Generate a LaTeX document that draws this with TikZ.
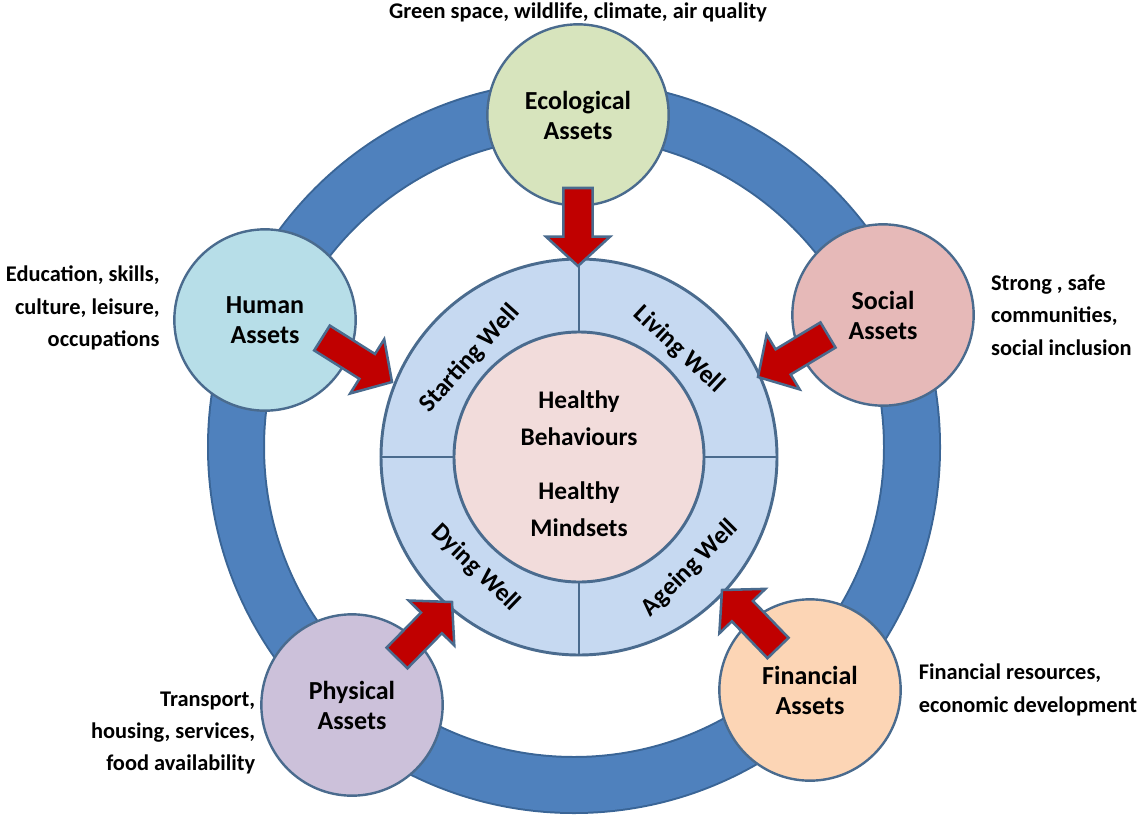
\documentclass[tikz,border=0pt]{standalone}
\usepackage{fontspec}
\setmainfont{Carlito}
\usetikzlibrary{calc,positioning}
\definecolor{ringblue}{HTML}{4F81BD}
\definecolor{ringedge}{HTML}{3A6596}
\definecolor{edgeblue}{HTML}{4A6B8E}
\definecolor{wheelblue}{HTML}{C6D9F1}
\definecolor{corepink}{HTML}{F2DCDB}
\definecolor{ecogreen}{HTML}{D7E4BD}
\definecolor{humanblue}{HTML}{B7DEE8}
\definecolor{socialred}{HTML}{E6B9B8}
\definecolor{physlilac}{HTML}{CCC1DA}
\definecolor{finpeach}{HTML}{FCD5B5}
\definecolor{arrowred}{HTML}{C00000}
\tikzstyle{asset}=[circle, draw=edgeblue, line width=1.8pt, minimum size=136pt, inner sep=0pt, align=center, font=\fontsize{19.5}{22.5}\selectfont\bfseries]
\tikzstyle{disc}=[circle, draw=edgeblue, line width=2.2pt, inner sep=0pt]
\tikzstyle{desc}=[font=\fontsize{16.8}{24.3}\selectfont\bfseries, inner sep=0pt]
\tikzstyle{stage}=[font=\fontsize{19}{20}\selectfont\bfseries, inner sep=0pt]
\tikzstyle{core text}=[align=center, font=\fontsize{19}{27.5}\selectfont\bfseries]
\tikzstyle{bigarrow}=[fill=arrowred, draw=edgeblue, line width=1.9pt, line join=miter]
% block arrow from tail #1 to tip #2
\newcommand{\assetarrow}[2]{%
  \coordinate (ab) at ($(#2)!22pt!(#1)$);
  \draw[bigarrow] ($(#1)!11pt!90:(#2)$) -- ($(ab)!11pt!90:(#2)$) -- ($(ab)!24pt!90:(#2)$) -- (#2)
    -- ($(ab)!24pt!-90:(#2)$) -- ($(ab)!11pt!-90:(#2)$) -- ($(#1)!11pt!-90:(#2)$) -- cycle;}

\begin{document}
\begin{tikzpicture}[x=0.75pt, y=-0.75pt]
\useasboundingbox (0,0) rectangle (1141,817);
% outer ring
\draw[ringedge, line width=43.5pt] (574,447) circle (253.5pt);
\draw[ringblue, line width=40.5pt] (574,447) circle (253.5pt);

% wheel in the middle
\node[disc, fill=wheelblue, minimum size=297pt] (wheel) at (579,457) {};
\node[disc, fill=corepink, minimum size=187.5pt] (core) at (wheel.center) {};
\foreach \a in {0,90,180,270}
    \draw[edgeblue, line width=2.2pt] (wheel.\a) -- (core.\a);
\node[core text] (behav) at (579,418) {Healthy\\Behaviours};
\node[core text] (mind) at (579,509) {Healthy\\Mindsets};
\foreach \n/\a/\d/\r/\t in {start/138/110/48/Starting Well, live/47/110/-43/Living Well,
                            die/227/114/-44/Dying Well, age/315/118/45/Ageing Well}
    \node[stage, rotate=\r] (\n) at ($(wheel.center)+(\a:\d pt)$) {\t};

% assets
\node[asset, fill=ecogreen] (eco) at (578,115) {Ecological\\Assets};
\node[asset, fill=humanblue] (human) at (265,320) {Human\\Assets};
\node[asset, fill=socialred] (social) at (883,315) {Social\\Assets};
\node[asset, fill=physlilac] (phys) at (352,705) {Physical\\Assets};
\node[asset, fill=finpeach] (fin) at (810,690) {Financial\\Assets};

\node[desc, above=1pt of eco] (ecotxt) {Green space, wildlife, climate, air quality};
\node[desc, align=right, left=10pt of human, yshift=9pt] (humantxt) {Education, skills,\\culture, leisure,\\occupations};
\node[desc, align=left, right=12pt of social] (socialtxt) {Strong , safe\\communities,\\social inclusion};
\node[desc, align=right, left=3.5pt of phys, yshift=-21pt] (phystxt) {Transport,\\housing, services,\\food availability};
\node[desc, align=left, right=12.5pt of fin] (fintxt) {Financial resources,\\economic development};

% arrows into the wheel
\coordinate (ecoT) at (578,188);  \coordinate (ecoH) at (578,266);
\coordinate (humT) at (322,338);  \coordinate (humH) at (392,382);
\coordinate (socT) at (828,335);  \coordinate (socH) at (758,377);
\coordinate (phyT) at (397,658);  \coordinate (phyH) at (452,602);
\coordinate (finT) at (778,648);  \coordinate (finH) at (722,590);
\assetarrow{ecoT}{ecoH}
\assetarrow{humT}{humH}
\assetarrow{socT}{socH}
\assetarrow{phyT}{phyH}
\assetarrow{finT}{finH}
\end{tikzpicture}
\end{document}
